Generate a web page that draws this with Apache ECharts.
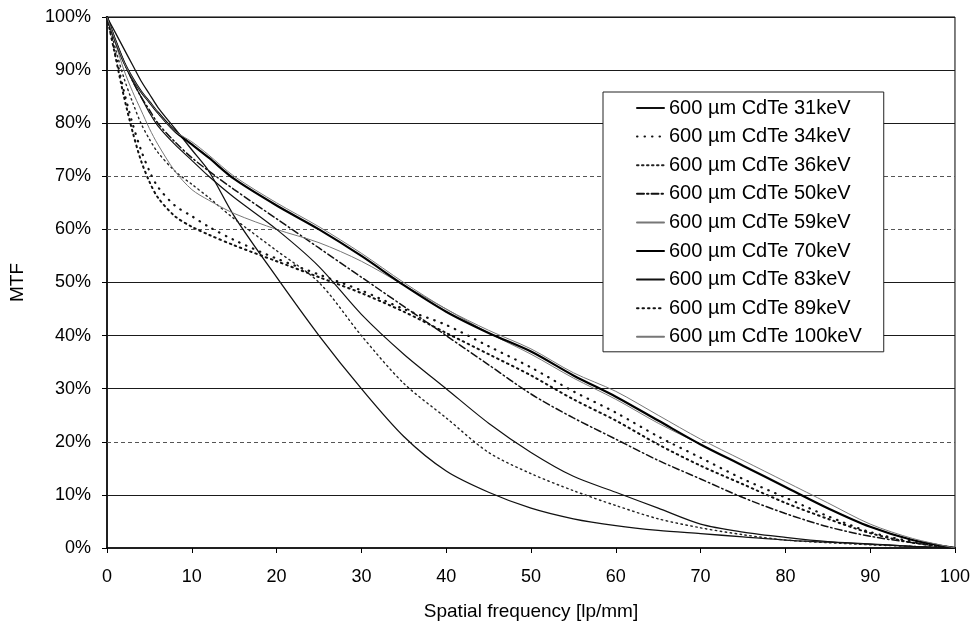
<!DOCTYPE html>
<html>
<head>
<meta charset="utf-8">
<title>MTF CdTe</title>
<script src="https://cdn.jsdelivr.net/npm/echarts@6/dist/echarts.min.js"></script>
<style>
    html, body { margin: 0; padding: 0; background: #fff; }
    #mtf_chart { width: 973px; height: 626px; }
</style>
</head>
<body>
<div id="mtf_chart"></div>
<script>
// spatial frequency [lp/mm]
var freq = [0, 1, 2, 3, 4, 5, 6, 8, 10, 12, 15, 20, 25, 30, 35, 40, 45, 50, 55, 60, 65, 70, 75, 80, 85, 90, 95, 100];
// MTF [%] per energy
var mtf31 = [100, 97, 94, 91, 88, 85.5, 83, 79, 75, 71, 62.5, 51, 40, 30, 21, 14.5, 10.5, 7.5, 5.5, 4.2, 3.3, 2.7, 2.1, 1.5, 1.1, 0.7, 0.3, 0];
var mtf34 = [100, 93, 86, 80, 75, 71, 68, 64.5, 62.5, 60.5, 58, 54.5, 51.5, 48.5, 45, 42, 38, 34, 29.5, 25.5, 21, 17, 13, 9.5, 6, 3, 1.2, 0];
var mtf36 = [100, 94, 88.5, 84, 80, 77, 74.5, 71, 68.5, 66, 62, 56, 50, 40, 31, 24.5, 18, 14, 10.8, 8, 5.5, 3.8, 2.5, 1.5, 1, 0.6, 0.3, 0];
var mtf50 = [100, 95.5, 91.5, 88, 85, 82.5, 80, 76.5, 73.5, 71, 67.5, 62, 56.5, 51, 45.5, 40, 34.5, 29, 24.5, 20.5, 16.5, 13, 9.5, 6.5, 4, 2.2, 1, 0];
var mtf59 = [100, 95, 90, 86, 82.5, 79, 76, 71, 67.5, 65.5, 63, 60, 57.5, 54, 49.5, 45, 40.5, 36.5, 32, 28, 23.5, 19.5, 15.5, 11.5, 7.5, 4, 1.5, 0];
var mtf70 = [100, 95.5, 91.5, 88.5, 86, 84, 82, 78.5, 76, 73.5, 69.5, 64.5, 60, 55, 49.5, 44.5, 40.5, 37, 32.5, 28.5, 24, 19.5, 15.5, 11.5, 7.5, 4, 1.5, 0];
var mtf83 = [100, 95.5, 91.5, 88, 85, 82, 79.5, 76, 73, 70, 66, 60, 53, 44, 36.5, 30, 23.5, 18, 13.5, 10.5, 7.5, 4.5, 3, 2, 1.2, 0.8, 0.3, 0];
var mtf89 = [100, 92.5, 85, 78.5, 73, 69, 66, 62.5, 60.5, 59, 57, 54, 51, 48, 44.5, 40.5, 36.5, 32.5, 28, 24, 19.5, 15.5, 12, 8.5, 5.5, 2.8, 1, 0];
var mtf100 = [100, 95.5, 91.5, 88.5, 86, 84, 82, 78.5, 76.5, 74, 70, 65, 60.5, 55.5, 50, 45, 41, 37.5, 33, 29.5, 25, 20.5, 16.5, 12.5, 8.5, 4.5, 1.8, 0];
var names = ['600 µm CdTe 31keV', '600 µm CdTe 34keV', '600 µm CdTe 36keV', '600 µm CdTe 50keV', '600 µm CdTe 59keV',
    '600 µm CdTe 70keV', '600 µm CdTe 83keV', '600 µm CdTe 89keV', '600 µm CdTe 100keV'];
// horizontal grid lines
var gridSolid = [10, 30, 40, 50, 80, 90, 100];
var gridDashed = [20, 60, 70];

function pairs(ys) {
    var out = [];
    for (var i = 0; i < freq.length; i++) {
        out.push([freq[i], ys[i]]);
    }
    return out;
}

function makeLine(name, ys, color, width, type) {
    return {
        name: name,
        type: 'line',
        data: pairs(ys),
        smooth: 0.3,
        symbol: 'none',
        showSymbol: false,
        lineStyle: { color: color, width: width, type: type, cap: 'round' },
        itemStyle: { color: color }
    };
}

function chart_mtf() {
    var myChart = echarts.init(document.getElementById('mtf_chart'));
    var font = 'Liberation Sans, Arial, sans-serif';

    var series = [
        makeLine(names[0], mtf31, '#111', 1.3, 'solid'),
        makeLine(names[1], mtf34, '#111', 2.2, [0.5, 7]),
        makeLine(names[2], mtf36, '#222', 1.4, [1.5, 3.5]),
        makeLine(names[3], mtf50, '#111', 1.5, [7, 3, 1.5, 3]),
        makeLine(names[4], mtf59, '#777', 1, 'solid'),
        makeLine(names[5], mtf70, '#000', 2.2, 'solid'),
        makeLine(names[6], mtf83, '#111', 1.2, 'solid'),
        makeLine(names[7], mtf89, '#111', 2, [1.5, 4]),
        makeLine(names[8], mtf100, '#777', 1, 'solid')
    ];

    // grid lines as mark lines (solid / dashed mix like the scan)
    var gl = [];
    gridSolid.forEach(function (v) {
        gl.push({ yAxis: v, lineStyle: { color: '#1a1a1a', width: 1, type: 'solid' } });
    });
    gridDashed.forEach(function (v) {
        gl.push({ yAxis: v, lineStyle: { color: '#555', width: 1, type: [4, 3] } });
    });
    series[0].markLine = {
        silent: true,
        symbol: 'none',
        label: { show: false },
        z: 1,
        data: gl
    };

    var option = {
        animation: false,
        backgroundColor: '#fff',
        textStyle: { fontFamily: font },
        grid: {
            left: 105,
            right: 14,
            top: 17,
            bottom: 78,
            show: true,
            borderColor: '#000',
            borderWidth: 1
        },
        legend: {
            orient: 'vertical',
            left: 603,
            top: 92,
            padding: [6, 22, 5, 33],
            backgroundColor: '#fff',
            borderColor: '#222',
            borderWidth: 1,
            itemWidth: 27,
            itemHeight: 14,
            itemGap: 8.6,
            itemStyle: { opacity: 0 },
            textStyle: { fontSize: 20, lineHeight: 20, color: '#000', fontFamily: font },
            data: names
        },
        xAxis: {
            type: 'value',
            min: 0,
            max: 100,
            interval: 10,
            name: 'Spatial frequency [lp/mm]',
            nameLocation: 'middle',
            nameGap: 54,
            nameTextStyle: { fontSize: 19, color: '#000' },
            axisLine: { lineStyle: { color: '#000', width: 1.5 } },
            axisTick: { inside: false, length: 5, lineStyle: { color: '#000' } },
            axisLabel: { fontSize: 18, color: '#000', margin: 20 },
            splitLine: { show: false }
        },
        yAxis: {
            type: 'value',
            min: 0,
            max: 100,
            interval: 10,
            name: 'MTF',
            nameLocation: 'middle',
            nameGap: 80,
            nameTextStyle: { fontSize: 19, color: '#000' },
            axisLine: { show: true, lineStyle: { color: '#000', width: 1.5 } },
            axisTick: { show: true, inside: false, length: 5, lineStyle: { color: '#000' } },
            axisLabel: { fontSize: 18, color: '#000', margin: 16, formatter: '{value}%' },
            splitLine: { show: false }
        },
        series: series
    };
    myChart.setOption(option);
}

chart_mtf();
</script>
</body>
</html>
